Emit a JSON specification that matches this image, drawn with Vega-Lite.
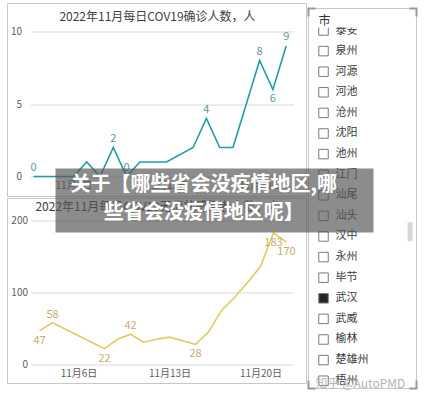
{
  "$schema": "https://vega.github.io/schema/vega-lite/v6.json",
  "padding": {"left": 6.5, "top": 2.5, "right": 0, "bottom": 0},
  "background": "white",
  "config": {
    "font": "Noto Sans CJK SC",
    "view": {"stroke": null},
    "axis": {"labelFont": "Noto Sans CJK SC", "labelFontSize": 10, "labelColor": "#606060"}
  },
  "datasets": {
    "top": [
      {"date": "2022-11-03T00:00:00", "cases": 0},
      {"date": "2022-11-04T00:00:00", "cases": 0},
      {"date": "2022-11-05T00:00:00", "cases": 0},
      {"date": "2022-11-06T00:00:00", "cases": 0},
      {"date": "2022-11-07T00:00:00", "cases": 1},
      {"date": "2022-11-08T00:00:00", "cases": 0},
      {"date": "2022-11-09T00:00:00", "cases": 2},
      {"date": "2022-11-10T00:00:00", "cases": 0},
      {"date": "2022-11-11T00:00:00", "cases": 1},
      {"date": "2022-11-12T00:00:00", "cases": 1},
      {"date": "2022-11-13T00:00:00", "cases": 1},
      {"date": "2022-11-15T00:00:00", "cases": 2},
      {"date": "2022-11-16T00:00:00", "cases": 4},
      {"date": "2022-11-17T00:00:00", "cases": 2},
      {"date": "2022-11-18T00:00:00", "cases": 2},
      {"date": "2022-11-19T00:00:00", "cases": 5},
      {"date": "2022-11-20T00:00:00", "cases": 8},
      {"date": "2022-11-21T00:00:00", "cases": 6},
      {"date": "2022-11-22T00:00:00", "cases": 9}
    ],
    "bottom": [
      {"date": "2022-11-03T00:00:00", "cases": 47},
      {"date": "2022-11-04T00:00:00", "cases": 58},
      {"date": "2022-11-05T00:00:00", "cases": 49},
      {"date": "2022-11-06T00:00:00", "cases": 40},
      {"date": "2022-11-07T00:00:00", "cases": 31},
      {"date": "2022-11-08T00:00:00", "cases": 22},
      {"date": "2022-11-09T00:00:00", "cases": 35},
      {"date": "2022-11-10T00:00:00", "cases": 42},
      {"date": "2022-11-11T00:00:00", "cases": 31},
      {"date": "2022-11-12T00:00:00", "cases": 35},
      {"date": "2022-11-13T00:00:00", "cases": 38},
      {"date": "2022-11-14T00:00:00", "cases": 33},
      {"date": "2022-11-15T00:00:00", "cases": 28},
      {"date": "2022-11-16T00:00:00", "cases": 45},
      {"date": "2022-11-17T00:00:00", "cases": 75},
      {"date": "2022-11-18T00:00:00", "cases": 93},
      {"date": "2022-11-19T00:00:00", "cases": 114},
      {"date": "2022-11-20T00:00:00", "cases": 136},
      {"date": "2022-11-21T00:00:00", "cases": 183},
      {"date": "2022-11-22T00:00:00", "cases": 170}
    ],
    "cities": [
      {"city": "泰安", "idx": 0, "checked": false},
      {"city": "泉州", "idx": 1, "checked": false},
      {"city": "河源", "idx": 2, "checked": false},
      {"city": "河池", "idx": 3, "checked": false},
      {"city": "沧州", "idx": 4, "checked": false},
      {"city": "沈阳", "idx": 5, "checked": false},
      {"city": "池州", "idx": 6, "checked": false},
      {"city": "江门", "idx": 7, "checked": false},
      {"city": "汕尾", "idx": 8, "checked": false},
      {"city": "汕头", "idx": 9, "checked": false},
      {"city": "汉中", "idx": 10, "checked": false},
      {"city": "永州", "idx": 11, "checked": false},
      {"city": "毕节", "idx": 12, "checked": false},
      {"city": "武汉", "idx": 13, "checked": true},
      {"city": "武威", "idx": 14, "checked": false},
      {"city": "榆林", "idx": 15, "checked": false},
      {"city": "楚雄州", "idx": 16, "checked": false},
      {"city": "梧州", "idx": 17, "checked": false}
    ]
  },
  "columns": 2,
  "bounds": "flush",
  "spacing": {"row": 44, "column": 15},
  "concat": [
    {
      "width": 263,
      "height": 145,
      "layer": [
        {
          "data": {"values": [{}]},
          "mark": {"type": "rect", "filled": false, "stroke": "#c8c8c8", "strokeWidth": 1},
          "encoding": {
            "x": {"datum": {"year": 2022, "month": 11, "date": 1, "hours": 1, "minutes": 5}, "type": "temporal",
                  "scale": {"domain": [{"year": 2022, "month": 11, "date": 2, "hours": 18, "minutes": 35}, {"year": 2022, "month": 11, "date": 22, "hours": 13, "minutes": 10}], "nice": false},
                  "axis": {"title": null}},
            "x2": {"datum": {"year": 2022, "month": 11, "date": 23, "hours": 12, "minutes": 38}},
            "y": {"datum": 11.93, "type": "quantitative", "scale": {"domain": [0, 10], "nice": false}, "axis": {"title": null}},
            "y2": {"datum": -1.379}
          }
        },
        {
          "data": {"values": [{}]},
          "mark": {"type": "text", "align": "center", "baseline": "middle", "fontSize": 12, "color": "#404040"},
          "encoding": {
            "x": {"datum": {"year": 2022, "month": 11, "date": 12, "hours": 7, "minutes": 45}, "type": "temporal"},
            "y": {"datum": 10.966, "type": "quantitative"},
            "text": {"value": "2022年11月每日COV19确诊人数，人"}
          }
        },
        {
          "data": {"name": "top"},
          "mark": {"type": "line", "color": "#1f9ea5", "strokeWidth": 1.6},
          "encoding": {
            "x": {"field": "date", "type": "temporal",
                  "scale": {"domain": [{"year": 2022, "month": 11, "date": 2, "hours": 18, "minutes": 35}, {"year": 2022, "month": 11, "date": 22, "hours": 13, "minutes": 10}], "nice": false},
                  "axis": {"title": null, "values": [{"year": 2022, "month": 11, "date": 6}, {"year": 2022, "month": 11, "date": 13}, {"year": 2022, "month": 11, "date": 20}], "format": "%-m月%-d日", "grid": false, "domain": false, "ticks": false, "labelPadding": 4}},
            "y": {"field": "cases", "type": "quantitative", "scale": {"domain": [0, 10], "nice": false},
                  "axis": {"title": null, "values": [0, 5, 10], "grid": true, "gridColor": "#d9d9d9", "domain": false, "ticks": false, "labelPadding": 9}}
          }
        },
        {
          "data": {"name": "top"},
          "transform": [{"filter": "indexof([3, 9, 10, 16, 20, 22], date(datum.date)) >= 0"}],
          "mark": {"type": "text", "dy": -9, "fontSize": 11, "color": "#5b98a6"},
          "encoding": {
            "x": {"field": "date", "type": "temporal"},
            "y": {"field": "cases", "type": "quantitative"},
            "text": {"field": "cases", "type": "quantitative"}
          }
        },
        {
          "data": {"name": "top"},
          "transform": [{"filter": "indexof([21], date(datum.date)) >= 0"}],
          "mark": {"type": "text", "dy": 9, "fontSize": 11, "color": "#5b98a6"},
          "encoding": {
            "x": {"field": "date", "type": "temporal"},
            "y": {"field": "cases", "type": "quantitative"},
            "text": {"field": "cases", "type": "quantitative"}
          }
        }
      ]
    },
    {
      "width": 108,
      "height": 145,
      "layer": [
        {
          "data": {"values": [{}]},
          "mark": {"type": "rect", "filled": false, "stroke": "#c8c8c8", "strokeWidth": 1},
          "encoding": {
            "x": {"datum": 0, "type": "quantitative", "scale": {"domain": [0, 1], "nice": false, "zero": false}, "axis": null},
            "x2": {"datum": 1},
            "y": {"datum": -1.068, "type": "quantitative", "scale": {"domain": [0.0485, 7.0874], "nice": false, "zero": false, "reverse": true}, "axis": null},
            "y2": {"datum": 17.38}
          }
        },
        {
          "data": {"name": "cities"},
          "mark": {"type": "point", "shape": "square", "size": 90, "filled": true, "stroke": "#7a7a7a", "strokeWidth": 1, "opacity": 1},
          "encoding": {
            "x": {"datum": 0.139, "type": "quantitative"},
            "y": {"field": "idx", "type": "quantitative"},
            "fill": {"condition": {"test": "datum.checked", "value": "#252525"}, "value": "#ffffff"}
          }
        },
        {
          "data": {"name": "cities"},
          "mark": {"type": "text", "align": "left", "baseline": "middle", "fontSize": 11, "color": "#3a3a3a"},
          "encoding": {
            "x": {"datum": 0.25, "type": "quantitative"},
            "y": {"field": "idx", "type": "quantitative"},
            "text": {"field": "city", "type": "nominal"}
          }
        },
        {
          "data": {"values": [{}]},
          "mark": {"type": "rect", "fill": "#ffffff"},
          "encoding": {
            "x": {"datum": 0.01, "type": "quantitative"},
            "x2": {"datum": 0.99},
            "y": {"datum": -1.04, "type": "quantitative"},
            "y2": {"datum": -0.146}
          }
        },
        {
          "data": {"values": [{}]},
          "mark": {"type": "text", "align": "left", "baseline": "middle", "fontSize": 12, "color": "#333333"},
          "encoding": {
            "x": {"datum": 0.093, "type": "quantitative"},
            "y": {"datum": -0.485, "type": "quantitative"},
            "text": {"value": "市"}
          }
        },
        {
          "data": {"values": [{}]},
          "mark": {"type": "rect", "fill": "#d6d6d6"},
          "encoding": {
            "x": {"datum": 0.917, "type": "quantitative"},
            "x2": {"datum": 0.963},
            "y": {"datum": 9.31, "type": "quantitative"},
            "y2": {"datum": 10.23}
          }
        },
        {
          "data": {"values": [{}]},
          "mark": {"type": "text", "align": "left", "baseline": "middle", "fontSize": 12, "color": "#b4b4b4"},
          "encoding": {
            "x": {"datum": 0.065, "type": "quantitative"},
            "y": {"datum": 17.14, "type": "quantitative"},
            "text": {"value": "知乎 @AutoPMD"}
          }
        },
        {
          "data": {"values": [{}]},
          "mark": {"type": "rule", "stroke": "#9a9a9a", "strokeWidth": 2},
          "encoding": {"x": {"datum": -0.009, "type": "quantitative"}, "x2": {"datum": 0.065}, "y": {"datum": -1.068, "type": "quantitative"}}
        },
        {
          "data": {"values": [{}]},
          "mark": {"type": "rule", "stroke": "#9a9a9a", "strokeWidth": 2},
          "encoding": {"x": {"datum": 0, "type": "quantitative"}, "y": {"datum": -1.068, "type": "quantitative"}, "y2": {"datum": -0.68}}
        },
        {
          "data": {"values": [{}]},
          "mark": {"type": "rule", "stroke": "#9a9a9a", "strokeWidth": 2},
          "encoding": {"x": {"datum": 0.935, "type": "quantitative"}, "x2": {"datum": 1.009}, "y": {"datum": -1.068, "type": "quantitative"}}
        },
        {
          "data": {"values": [{}]},
          "mark": {"type": "rule", "stroke": "#9a9a9a", "strokeWidth": 2},
          "encoding": {"x": {"datum": 1, "type": "quantitative"}, "y": {"datum": -1.068, "type": "quantitative"}, "y2": {"datum": -0.68}}
        },
        {
          "data": {"values": [{}]},
          "mark": {"type": "rule", "stroke": "#9a9a9a", "strokeWidth": 2},
          "encoding": {"x": {"datum": -0.009, "type": "quantitative"}, "x2": {"datum": 0.065}, "y": {"datum": 17.38, "type": "quantitative"}}
        },
        {
          "data": {"values": [{}]},
          "mark": {"type": "rule", "stroke": "#9a9a9a", "strokeWidth": 2},
          "encoding": {"x": {"datum": 0, "type": "quantitative"}, "y": {"datum": 16.99, "type": "quantitative"}, "y2": {"datum": 17.38}}
        },
        {
          "data": {"values": [{}]},
          "mark": {"type": "rule", "stroke": "#9a9a9a", "strokeWidth": 2},
          "encoding": {"x": {"datum": 0.935, "type": "quantitative"}, "x2": {"datum": 1.009}, "y": {"datum": 17.38, "type": "quantitative"}}
        },
        {
          "data": {"values": [{}]},
          "mark": {"type": "rule", "stroke": "#9a9a9a", "strokeWidth": 2},
          "encoding": {"x": {"datum": 1, "type": "quantitative"}, "y": {"datum": 16.99, "type": "quantitative"}, "y2": {"datum": 17.38}}
        }
      ]
    },
    {
      "width": 262,
      "height": 144,
      "layer": [
        {
          "data": {"values": [{}]},
          "mark": {"type": "rect", "filled": false, "stroke": "#c8c8c8", "strokeWidth": 1},
          "encoding": {
            "x": {"datum": {"year": 2022, "month": 10, "date": 31, "hours": 12, "minutes": 55}, "type": "temporal",
                  "scale": {"domain": [{"year": 2022, "month": 11, "date": 2, "hours": 7, "minutes": 23}, {"year": 2022, "month": 11, "date": 22, "hours": 11, "minutes": 4}], "nice": false},
                  "axis": {"title": null}},
            "x2": {"datum": {"year": 2022, "month": 11, "date": 23, "hours": 12, "minutes": 55}},
            "y": {"datum": 230.6, "type": "quantitative", "scale": {"domain": [0, 200], "nice": false}, "axis": {"title": null}},
            "y2": {"datum": -26.4}
          }
        },
        {
          "data": {"values": [{}]},
          "mark": {"type": "text", "align": "center", "baseline": "middle", "fontSize": 12, "color": "#404040"},
          "encoding": {
            "x": {"datum": {"year": 2022, "month": 11, "date": 12, "hours": 1, "minutes": 51}, "type": "temporal"},
            "y": {"datum": 219.4, "type": "quantitative"},
            "text": {"value": "2022年11月每日COV19无症状感染者人数，人"}
          }
        },
        {
          "data": {"name": "bottom"},
          "mark": {"type": "line", "color": "#e6c862", "strokeWidth": 1.6},
          "encoding": {
            "x": {"field": "date", "type": "temporal",
                  "scale": {"domain": [{"year": 2022, "month": 11, "date": 2, "hours": 7, "minutes": 23}, {"year": 2022, "month": 11, "date": 22, "hours": 11, "minutes": 4}], "nice": false},
                  "axis": {"title": null, "values": [{"year": 2022, "month": 11, "date": 6}, {"year": 2022, "month": 11, "date": 13}, {"year": 2022, "month": 11, "date": 20}], "format": "%-m月%-d日", "grid": false, "domain": false, "ticks": false, "labelPadding": 4}},
            "y": {"field": "cases", "type": "quantitative", "scale": {"domain": [0, 200], "nice": false},
                  "axis": {"title": null, "values": [0, 50, 100, 150, 200], "grid": true, "gridColor": "#d9d9d9", "domain": false, "ticks": false, "labelPadding": 3}}
          }
        },
        {
          "data": {"name": "bottom"},
          "transform": [{"filter": "indexof([4, 10], date(datum.date)) >= 0"}],
          "mark": {"type": "text", "dy": -8, "fontSize": 11, "color": "#c8ad6c"},
          "encoding": {
            "x": {"field": "date", "type": "temporal"},
            "y": {"field": "cases", "type": "quantitative"},
            "text": {"field": "cases", "type": "quantitative"}
          }
        },
        {
          "data": {"name": "bottom"},
          "transform": [{"filter": "indexof([3, 8, 15, 21, 22], date(datum.date)) >= 0"}],
          "mark": {"type": "text", "dy": 10, "fontSize": 11, "color": "#c8ad6c"},
          "encoding": {
            "x": {"field": "date", "type": "temporal"},
            "y": {"field": "cases", "type": "quantitative"},
            "text": {"field": "cases", "type": "quantitative"}
          }
        },
        {
          "data": {"values": [{}]},
          "mark": {"type": "rect", "fill": "#555555", "opacity": 0.68},
          "encoding": {
            "x": {"datum": {"year": 2022, "month": 11, "date": 4, "hours": 5, "minutes": 32}, "type": "temporal"},
            "x2": {"datum": {"year": 2022, "month": 11, "date": 28, "hours": 16, "minutes": 37}},
            "y": {"datum": 272.2, "type": "quantitative"},
            "y2": {"datum": 183.3}
          }
        },
        {
          "data": {"values": [{}]},
          "mark": {"type": "text", "align": "center", "baseline": "middle", "fontSize": 20, "fontWeight": "bold", "color": "#ffffff"},
          "encoding": {
            "x": {"datum": {"year": 2022, "month": 11, "date": 15, "hours": 15, "minutes": 0}, "type": "temporal"},
            "y": {"datum": 250, "type": "quantitative"},
            "text": {"value": "关于【哪些省会没疫情地区,哪"}
          }
        },
        {
          "data": {"values": [{}]},
          "mark": {"type": "text", "align": "center", "baseline": "middle", "fontSize": 20, "fontWeight": "bold", "color": "#ffffff"},
          "encoding": {
            "x": {"datum": {"year": 2022, "month": 11, "date": 15, "hours": 15, "minutes": 0}, "type": "temporal"},
            "y": {"datum": 211.1, "type": "quantitative"},
            "text": {"value": "些省会没疫情地区呢】"}
          }
        }
      ]
    }
  ]
}
